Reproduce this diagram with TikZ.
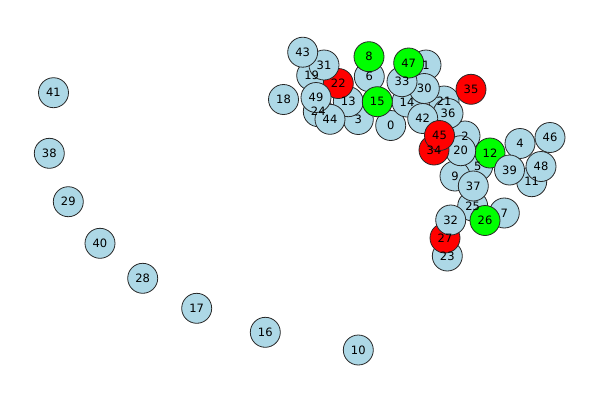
\documentclass[tikz,border=0pt]{standalone}
\usepackage{fontspec}
\setmainfont{DejaVu Sans}
\definecolor{nblue}{RGB}{173,216,230}
\definecolor{nred}{RGB}{255,0,0}
\definecolor{ngreen}{RGB}{0,255,0}
\definecolor{nedge}{RGB}{40,40,40}
\tikzset{
  vtx/.style={circle,draw=nedge,line width=0.8pt,minimum size=30pt,inner sep=0pt,fill=nblue},
  vred/.style={vtx,fill=nred},
  vgreen/.style={vtx,fill=ngreen},
  lbl/.style={font=\fontsize{11.5}{12}\selectfont,inner sep=0pt}
}
\begin{document}
\begin{tikzpicture}[x=1pt,y=-1pt]
\useasboundingbox (0,0) rectangle (600,400);
% nodes in index order
\foreach \n/\x/\y/\s in {
 0/390.7/125.5/vtx, 1/426/65/vtx, 2/465/136/vtx, 3/358.3/119.5/vtx, 4/520/143.5/vtx,
 5/477.7/166/vtx, 6/369.3/76.7/vtx, 7/504.3/213/vtx, 8/369/56.7/vgreen, 9/455/176/vtx,
 10/358.3/350/vtx, 11/531.7/181.7/vtx, 12/490/153/vgreen, 13/348.3/101.7/vtx, 14/407/102/vtx,
 15/377.3/101.7/vgreen, 16/265.3/332.3/vtx, 17/196.7/308.3/vtx, 18/283.5/99.5/vtx, 19/311.7/75.5/vtx,
 20/460.7/150.7/vtx, 21/444/101/vtx, 22/338.3/83.5/vred, 23/447.3/256/vtx, 24/318.3/111.7/vtx,
 25/472.7/206/vtx, 26/485/220.5/vgreen, 27/445/238/vred, 28/142.7/278.3/vtx, 29/68.3/201.7/vtx,
 30/424.3/88.5/vtx, 31/324/65/vtx, 32/450.7/220/vtx, 33/402/81.7/vtx, 34/434/150/vred,
 35/471/89.3/vred, 36/448/113.5/vtx, 37/473.3/186/vtx, 38/49.3/153.3/vtx, 39/509.5/170/vtx,
 40/100/243.3/vtx, 41/53.5/92.7/vtx, 42/422.7/118.5/vtx, 43/302.7/52.2/vtx, 44/330/119.3/vtx,
 45/439.5/135.5/vred, 46/550/137.5/vtx, 47/408.7/63/vgreen, 48/541/166.5/vtx, 49/316/97.5/vtx}
{ \node[\s] (n\n) at (\x,\y) {}; }
% labels on top
\foreach \n in {0,...,49} { \node[lbl] (l\n) at (n\n) {\n}; }
\end{tikzpicture}
\end{document}
